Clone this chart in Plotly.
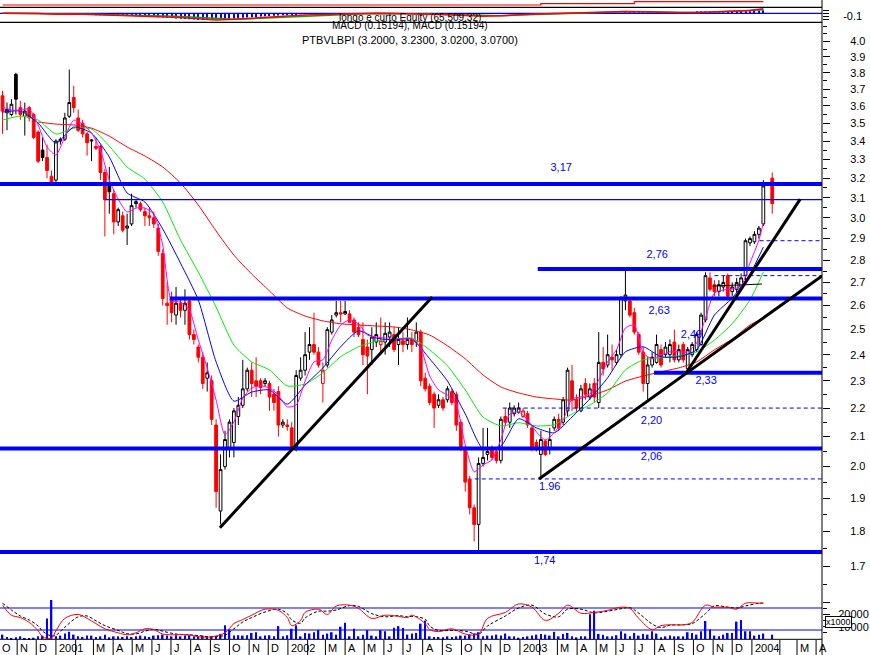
import pandas as pd
import plotly.graph_objects as go

# ---------------- data ----------------
week_start = "2000-10-09"
n_weeks = 174
missing_week = 172          # no bar for this week

opens = [3.66, 3.56, 3.55, 3.79, 3.59, 3.54, 3.59, 3.55, 3.45, 3.35,
         3.31, 3.21, 3.19, 3.40, 3.41, 3.54, 3.65, 3.53, 3.50, 3.44,
         3.40, 3.37, 3.37, 3.23, 3.16, 3.12, 2.98, 3.01, 2.95, 2.97,
         3.07, 3.07, 3.03, 3.01, 3.00, 2.95, 2.83, 2.61, 2.63, 2.56,
         2.61, 2.58, 2.62, 2.48, 2.43, 2.39, 2.31, 2.30, 2.14, 1.86,
         2.00, 2.06, 2.08, 2.17, 2.21, 2.27, 2.34, 2.30, 2.30, 2.29,
         2.29, 2.25, 2.26, 2.14, 2.14, 2.13, 2.06, 2.31, 2.34, 2.41,
         2.44, 2.41, 2.29, 2.36, 2.49, 2.56, 2.57, 2.565, 2.565, 2.54,
         2.51, 2.46, 2.43, 2.42, 2.45, 2.44, 2.45, 2.47, 2.48, 2.44,
         2.455, 2.44, 2.46, 2.45, 2.49, 2.31, 2.28, 2.25, 2.21, 2.23,
         2.23, 2.26, 2.25, 2.15, 2.06, 1.96, 1.87, 1.82, 2.01, 2.04,
         2.06, 2.05, 2.02, 2.17, 2.15, 2.18, 2.185, 2.17, 2.18, 2.13,
         2.08, 2.04, 2.085, 2.06, 2.13, 2.16, 2.15, 2.19, 2.30, 2.23,
         2.19, 2.29, 2.24, 2.29, 2.22, 2.37, 2.36, 2.39, 2.37, 2.40,
         2.62, 2.62, 2.57, 2.48, 2.41, 2.29, 2.36, 2.37, 2.42, 2.40,
         2.40, 2.45, 2.38, 2.44, 2.345, 2.40, 2.42, 2.44, 2.54, 2.72,
         2.69, 2.66, 2.68, 2.73, 2.66, 2.67, 2.68, 2.73, 2.88, 2.885,
         2.92, 2.97, 3.20]
highs = [3.69, 3.62, 3.64, 3.80, 3.63, 3.62, 3.60, 3.56, 3.46, 3.42,
         3.38, 3.24, 3.41, 3.42, 3.56, 3.82, 3.72, 3.58, 3.52, 3.45,
         3.41, 3.42, 3.38, 3.25, 3.26, 3.14, 3.05, 3.03, 3.02, 3.12,
         3.09, 3.08, 3.05, 3.05, 3.03, 2.97, 2.85, 2.70, 2.66, 2.68,
         2.63, 2.67, 2.63, 2.50, 2.44, 2.41, 2.37, 2.32, 2.16, 2.04,
         2.12, 2.16, 2.20, 2.24, 2.38, 2.35, 2.37, 2.39, 2.31, 2.31,
         2.30, 2.27, 2.28, 2.16, 2.16, 2.15, 2.34, 2.39, 2.49, 2.51,
         2.57, 2.43, 2.37, 2.51, 2.56, 2.62, 2.62, 2.62, 2.58, 2.55,
         2.53, 2.53, 2.46, 2.51, 2.53, 2.55, 2.53, 2.53, 2.51, 2.51,
         2.49, 2.55, 2.49, 2.53, 2.50, 2.33, 2.29, 2.26, 2.25, 2.24,
         2.28, 2.27, 2.26, 2.16, 2.07, 1.97, 1.88, 2.03, 2.13, 2.13,
         2.07, 2.06, 2.17, 2.20, 2.22, 2.21, 2.22, 2.20, 2.19, 2.14,
         2.09, 2.12, 2.09, 2.13, 2.17, 2.18, 2.24, 2.35, 2.36, 2.25,
         2.285, 2.31, 2.29, 2.31, 2.49, 2.43, 2.48, 2.44, 2.42, 2.64,
         2.76, 2.63, 2.59, 2.49, 2.43, 2.39, 2.41, 2.48, 2.44, 2.45,
         2.46, 2.50, 2.44, 2.45, 2.43, 2.45, 2.49, 2.57, 2.745, 2.745,
         2.71, 2.71, 2.73, 2.74, 2.70, 2.72, 2.74, 2.90, 2.91, 2.935,
         2.96, 3.19, 3.23]
lows = [3.44, 3.46, 3.54, 3.55, 3.52, 3.43, 3.51, 3.41, 3.28, 3.29,
        3.20, 3.16, 3.17, 3.38, 3.40, 3.53, 3.56, 3.45, 3.42, 3.32,
        3.29, 3.35, 3.19, 2.91, 3.02, 2.92, 2.96, 2.93, 2.87, 2.96,
        3.05, 3.03, 2.96, 2.96, 2.95, 2.82, 2.60, 2.52, 2.53, 2.52,
        2.55, 2.52, 2.46, 2.44, 2.37, 2.27, 2.26, 2.14, 1.87, 1.82,
        1.99, 2.03, 2.03, 2.14, 2.20, 2.26, 2.24, 2.24, 2.25, 2.28,
        2.19, 2.19, 2.10, 2.13, 2.12, 2.05, 2.05, 2.30, 2.32, 2.38,
        2.40, 2.35, 2.22, 2.35, 2.48, 2.55, 2.53, 2.56, 2.53, 2.47,
        2.47, 2.36, 2.25, 2.36, 2.43, 2.40, 2.40, 2.43, 2.41, 2.36,
        2.41, 2.42, 2.41, 2.43, 2.28, 2.26, 2.21, 2.13, 2.20, 2.19,
        2.22, 2.21, 2.12, 2.05, 1.92, 1.85, 1.77, 1.74, 2.00, 2.02,
        2.02, 2.01, 2.01, 2.14, 2.13, 2.17, 2.18, 2.165, 2.13, 2.05,
        2.05, 1.96, 2.035, 2.04, 2.12, 2.12, 2.14, 2.17, 2.19, 2.185,
        2.185, 2.23, 2.23, 2.22, 2.20, 2.32, 2.35, 2.34, 2.36, 2.39,
        2.58, 2.55, 2.48, 2.40, 2.26, 2.23, 2.35, 2.365, 2.35, 2.39,
        2.37, 2.37, 2.37, 2.37, 2.33, 2.39, 2.41, 2.435, 2.53, 2.66,
        2.64, 2.64, 2.66, 2.63, 2.64, 2.655, 2.665, 2.71, 2.865, 2.875,
        2.90, 2.96, 3.02]
closes = [3.57, 3.58, 3.61, 3.64, 3.55, 3.57, 3.53, 3.42, 3.29, 3.31,
          3.24, 3.17, 3.40, 3.41, 3.53, 3.62, 3.59, 3.46, 3.44, 3.39,
          3.405, 3.36, 3.23, 3.09, 3.13, 2.98, 3.04, 2.94, 2.96, 3.06,
          3.08, 3.04, 3.01, 3.00, 2.97, 2.84, 2.63, 2.60, 2.57, 2.61,
          2.58, 2.61, 2.48, 2.46, 2.39, 2.29, 2.33, 2.16, 1.92, 1.99,
          2.09, 2.15, 2.19, 2.21, 2.27, 2.34, 2.29, 2.28, 2.275, 2.30,
          2.24, 2.22, 2.14, 2.15, 2.135, 2.06, 2.32, 2.34, 2.40, 2.44,
          2.41, 2.36, 2.34, 2.50, 2.54, 2.57, 2.565, 2.575, 2.53, 2.49,
          2.48, 2.40, 2.395, 2.47, 2.48, 2.455, 2.485, 2.49, 2.42, 2.46,
          2.44, 2.46, 2.44, 2.49, 2.30, 2.27, 2.22, 2.20, 2.23, 2.20,
          2.27, 2.22, 2.14, 2.06, 1.95, 1.87, 1.82, 2.01, 2.03, 2.05,
          2.03, 2.02, 2.16, 2.15, 2.20, 2.20, 2.20, 2.19, 2.14, 2.06,
          2.055, 2.09, 2.04, 2.09, 2.16, 2.13, 2.23, 2.34, 2.23, 2.20,
          2.27, 2.25, 2.27, 2.24, 2.37, 2.345, 2.40, 2.38, 2.40, 2.63,
          2.645, 2.56, 2.49, 2.41, 2.29, 2.36, 2.39, 2.44, 2.36, 2.43,
          2.44, 2.38, 2.42, 2.38, 2.42, 2.44, 2.48, 2.56, 2.73, 2.67,
          2.66, 2.69, 2.70, 2.64, 2.68, 2.70, 2.72, 2.89, 2.90, 2.92,
          2.95, 3.16, 3.07]
volumes = [3600, 1700, 800, 1400, 2200, 800, 800, 1100, 2200, 2800,
           16800, 32200, 2200, 2800, 4500, 5900, 3600, 2200, 1700, 2800,
           2800, 1700, 2200, 3600, 1400, 2200, 2200, 1700, 2200, 1700,
           2200, 2800, 2200, 1700, 2800, 3100, 3600, 2800, 2200, 3100,
           2200, 2800, 3100, 2200, 2200, 2800, 2200, 2200, 2200, 4200,
           11200, 7800, 2800, 3100, 2800, 3100, 5000, 5600, 2200, 2800,
           3100, 2200, 10600, 2200, 3100, 8400, 11200, 2200, 5000, 4500,
           5600, 7300, 3600, 4500, 5600, 3600, 10100, 13400, 2200, 8400,
           2200, 3600, 7300, 2800, 2200, 7300, 6400, 2200, 9200, 10600,
           9000, 3600, 4500, 5000, 12600, 15100, 2200, 1700, 1700, 1400,
           2200, 1700, 2200, 2800, 2800, 3600, 4500, 5600, 2200, 2800,
           2800, 3600, 2800, 4500, 2200, 2200, 1100, 1700, 2200, 2800,
           3600, 4200, 3600, 2800, 5900, 2200, 4200, 5000, 2200, 1400,
           2200, 2200, 20400, 23200, 4200, 3600, 2200, 2200, 3100, 6400,
           4500, 2200, 5000, 2800, 4200, 3600, 6400, 4500, 1400, 2200,
           2800, 2200, 2200, 2200, 5600, 5000, 3600, 6400, 14800, 7800,
           2800, 2200, 3600, 5000, 5000, 14300, 15700, 6400, 6400, 2800,
           3600, 4500, 3600]

# moving averages (week index -> price)
ma_fast_idx = list(range(0, 171, 2)) + [171]
ma_fast = [3.594, 3.576, 3.576, 3.582, 3.490, 3.367, 3.323, 3.422, 3.518, 3.495,
           3.444, 3.350, 3.190, 3.093, 3.028, 3.048, 3.048, 3.018, 2.870, 2.620,
           2.615, 2.581, 2.458, 2.349, 2.229, 2.106, 2.151, 2.236, 2.273, 2.281,
           2.273, 2.247, 2.204, 2.211, 2.299, 2.372, 2.380, 2.458, 2.519, 2.540,
           2.524, 2.478, 2.470, 2.466, 2.466, 2.462, 2.462, 2.427, 2.318, 2.266,
           2.247, 2.211, 2.072, 1.983, 2.005, 2.022, 2.089, 2.179, 2.186, 2.158,
           2.116, 2.089, 2.113, 2.158, 2.233, 2.240, 2.251, 2.303, 2.372, 2.419,
           2.507, 2.519, 2.407, 2.384, 2.399, 2.411, 2.411, 2.411, 2.446, 2.548,
           2.654, 2.667, 2.671, 2.684, 2.787, 2.893, 2.975]
ma4_idx = list(range(0, 169, 4)) + [171]
ma_blue = [3.564, 3.570, 3.501, 3.388, 3.478, 3.444, 3.312, 3.124, 3.078, 2.946,
           2.786, 2.624, 2.372, 2.225, 2.258, 2.266, 2.214, 2.284, 2.349, 2.431,
           2.495, 2.466, 2.458, 2.462, 2.384, 2.299, 2.179, 2.058, 2.068, 2.162,
           2.130, 2.113, 2.168, 2.233, 2.311, 2.411, 2.431, 2.392, 2.392, 2.419,
           2.560, 2.632, 2.737, 2.860]
ma_green = [3.518, 3.541, 3.518, 3.439, 3.472, 3.467, 3.372, 3.259, 3.195, 3.078,
            2.893, 2.746, 2.594, 2.438, 2.372, 2.341, 2.281, 2.288, 2.330, 2.392,
            2.431, 2.454, 2.462, 2.466, 2.419, 2.357, 2.266, 2.168, 2.137, 2.148,
            2.137, 2.141, 2.179, 2.211, 2.255, 2.341, 2.380, 2.388, 2.396, 2.411,
            2.458, 2.524, 2.624, 2.746]
ma_red_idx = list(range(8, 169, 4)) + [171]
ma_red = [3.507, 3.495, 3.490, 3.472, 3.427, 3.367, 3.318, 3.259, 3.175, 3.063,
          2.936, 2.823, 2.737, 2.663, 2.590, 2.556, 2.536, 2.524, 2.519, 2.515,
          2.511, 2.499, 2.478, 2.435, 2.384, 2.322, 2.277, 2.255, 2.240, 2.233,
          2.229, 2.244, 2.266, 2.299, 2.318, 2.334, 2.349, 2.372, 2.419, 2.462,
          2.519, 2.548]

# oscillator in the volume pane
osc_idx = [0, 2, 4, 6, 8, 9, 11, 12, 14, 17, 19, 21, 23, 26, 28, 30, 32, 34, 36, 39,
           42, 44, 47, 50, 52, 54, 56, 59, 62, 64, 65, 67, 68, 71, 73, 75, 78, 80, 83, 86,
           89, 91, 92, 95, 96, 98, 101, 104, 107, 109, 113, 116, 119, 122, 125, 127, 130,
           133, 136, 139, 141, 143, 146, 148, 150, 153, 155, 158, 160, 163, 165, 167, 170, 171]
osc_k = [87, 62, 56, 44, 23, 8, 5, 23, 54, 64, 54, 41, 28, 18, 13, 18, 28, 26, 15, 13,
         13, 8, 8, 18, 41, 51, 62, 77, 74, 56, 36, 49, 69, 77, 64, 85, 87, 79, 54, 62,
         59, 56, 62, 41, 26, 21, 28, 15, 15, 54, 69, 90, 82, 49, 67, 87, 67, 69, 74, 82,
         79, 54, 26, 36, 38, 38, 44, 87, 82, 82, 77, 92, 92, 92]
osc_d = [92, 75, 60, 50, 35, 22, 10, 12, 32, 58, 60, 48, 36, 24, 16, 15, 22, 27, 22, 15,
         13, 11, 8, 12, 28, 45, 56, 70, 77, 66, 50, 42, 55, 72, 72, 75, 86, 84, 66, 58,
         61, 58, 59, 52, 35, 24, 24, 22, 15, 35, 60, 80, 87, 65, 58, 77, 77, 68, 72, 78,
         81, 67, 40, 31, 37, 38, 41, 66, 85, 82, 80, 85, 92, 92]
osc_levels = [80, 25]

# MACD strip
macd_vals = [0.0, 0.0, -0.01, -0.03, -0.02, -0.04, -0.06, -0.08, -0.09, -0.1,
             -0.14, -0.18, -0.22, -0.2, -0.16, -0.12, -0.09, -0.06, -0.04, -0.02,
             0.0, 0.0, -0.01, -0.01, -0.03, -0.05, -0.08, -0.1, -0.08, -0.04,
             -0.02, -0.01, 0.01, 0.02, 0.04, 0.06, 0.05, 0.03, 0.02, 0.03,
             0.06, 0.07, 0.09, 0.15]
macd_signal = [0.0, 0.0, 0.0, -0.01, -0.02, -0.03, -0.04, -0.06, -0.08, -0.09,
               -0.11, -0.14, -0.18, -0.2, -0.18, -0.15, -0.12, -0.09, -0.06, -0.04,
               -0.02, -0.01, -0.01, -0.01, -0.02, -0.04, -0.06, -0.08, -0.08, -0.06,
               -0.04, -0.02, 0.0, 0.01, 0.03, 0.05, 0.05, 0.04, 0.03, 0.03,
               0.04, 0.06, 0.08, 0.12]
hist_a_start = 20
hist_a = [-0.03, -0.04, -0.05, -0.06, -0.06, -0.07, -0.08, -0.08, -0.09, -0.09,
          -0.1, -0.1, -0.11, -0.11, -0.12, -0.13, -0.14, -0.15, -0.16, -0.17,
          -0.18, -0.19, -0.2, -0.21, -0.22, -0.22, -0.22, -0.21, -0.2, -0.2,
          -0.19, -0.18, -0.17, -0.16, -0.15, -0.14, -0.13, -0.12, -0.11, -0.1,
          -0.09, -0.08, -0.07, -0.06, -0.05, -0.04, -0.04, -0.03, -0.02, -0.02, -0.01]
hist_b_start = 140
hist_b = [0.02, 0.03, 0.03, 0.02, 0.01, 0.01, 0.02, 0.02, 0.03, 0.03, 0.02, 0.02,
          0.01, 0.01, 0.02, 0.03, 0.04, 0.05, 0.05, 0.04, 0.04, 0.03, 0.03, 0.04,
          0.04, 0.05, 0.06, 0.06, 0.07, 0.08, 0.09, 0.1]
equity_idx = [0, 121, 142, 171]
equity_vals = [40000, 50000, 65509, 65509]

# support / resistance levels and trend lines
x_start, x_end = "2000-10-05", "2004-04-20 07:00"
thick_levels = [3.17, 2.76, 2.63, 2.33, 2.06, 1.74]
thick_starts = [x_start, "2003-01-29", "2001-06-29", "2003-07-31", x_start, x_start]
thin_level, thin_start = 3.09, "2001-03-19"
dashed_levels = [2.89, 2.73, 2.20, 1.96]
dashed_starts = ["2004-01-13", "2003-11-03", "2002-12-05", "2002-10-22"]
trend_dates = [["2001-09-16", "2002-08-16"], ["2003-01-31", x_end], ["2003-09-21", "2004-03-17"]]
trend_prices = [[1.81, 2.637], [1.96, 2.729], [2.334, 3.093]]
small_trend_dates = ["2003-10-31", "2004-01-17"]
small_trend_prices = [2.684, 2.693]
label_text = ["3,17", "2,76", "2,63", "2,49", "2,33", "2,20", "2,06", "1.96", "1,74"]
label_dates = ["2003-03-07", "2003-08-05", "2003-08-08", "2003-09-28", "2003-10-21",
               "2003-07-27", "2003-07-27", "2003-02-17", "2003-02-09"]
label_prices = [3.25, 2.823, 2.577, 2.478, 2.299, 2.154, 2.029, 1.935, 1.714]

price_ticks = [1.7, 1.8, 1.9, 2.0, 2.1, 2.2, 2.3, 2.4, 2.5, 2.6, 2.7, 2.8, 2.9,
               3.0, 3.1, 3.2, 3.3, 3.4, 3.5, 3.6, 3.7, 3.8, 3.9, 4.0]
price_minor = [1.65, 1.75, 1.85, 1.95, 2.05, 2.15, 2.25, 2.35, 2.45, 2.55, 2.65, 2.75,
               2.85, 2.95, 3.05, 3.15, 3.25, 3.35, 3.45, 3.55, 3.65, 3.75, 3.85, 3.95, 4.05, 4.1]

# ---------------- figure ----------------
FONT = "Liberation Sans, Arial, sans-serif"
BLUE = "#0000FF"
full_weeks = pd.date_range(week_start, periods=n_weeks, freq="7D")
bar_dates = full_weeks.delete(missing_week)


def wk(idx):
    return [full_weeks[i] for i in idx]


df = pd.DataFrame({"date": bar_dates, "open": opens, "high": highs,
                   "low": lows, "close": closes, "volume": volumes})
prev_close = df["close"].shift(1).fillna(df["open"])
black_mask = df["close"] >= prev_close

fig = go.Figure()

for mask, col, downfill in [(black_mask, "black", "black"), (~black_mask, "red", "red")]:
    d = df[mask]
    fig.add_trace(go.Candlestick(
        x=d["date"], open=d["open"], high=d["high"], low=d["low"], close=d["close"],
        increasing=dict(line=dict(color=col, width=1), fillcolor="white"),
        decreasing=dict(line=dict(color=col, width=1), fillcolor=downfill),
        whiskerwidth=0, xaxis="x", yaxis="y", showlegend=False, hoverinfo="skip"))

for idx, vals, col in [(ma_red_idx, ma_red, "#FF0000"), (ma4_idx, ma_green, "#00EE00"),
                       (ma4_idx, ma_blue, BLUE), (ma_fast_idx, ma_fast, "#FF00FF")]:
    fig.add_trace(go.Scatter(x=wk(idx), y=vals, mode="lines",
                             line=dict(color=col, width=1, shape="spline", smoothing=0.6),
                             xaxis="x", yaxis="y", showlegend=False, hoverinfo="skip"))

for lv, st in zip(thick_levels, thick_starts):
    fig.add_trace(go.Scatter(x=[st, x_end], y=[lv, lv], mode="lines",
                             line=dict(color=BLUE, width=4), xaxis="x", yaxis="y",
                             showlegend=False, hoverinfo="skip"))
fig.add_trace(go.Scatter(x=[thin_start, x_end], y=[thin_level, thin_level], mode="lines",
                         line=dict(color=BLUE, width=1.2), xaxis="x", yaxis="y",
                         showlegend=False, hoverinfo="skip"))
for lv, st in zip(dashed_levels, dashed_starts):
    fig.add_trace(go.Scatter(x=[st, x_end], y=[lv, lv], mode="lines",
                             line=dict(color=BLUE, width=1, dash="4px,3px"), xaxis="x",
                             yaxis="y", showlegend=False, hoverinfo="skip"))
for td, tp in zip(trend_dates, trend_prices):
    fig.add_trace(go.Scatter(x=td, y=tp, mode="lines", line=dict(color="black", width=3),
                             xaxis="x", yaxis="y", showlegend=False, hoverinfo="skip"))
fig.add_trace(go.Scatter(x=small_trend_dates, y=small_trend_prices, mode="lines",
                         line=dict(color="black", width=1), xaxis="x", yaxis="y",
                         showlegend=False, hoverinfo="skip"))
fig.add_trace(go.Scatter(x=label_dates, y=label_prices, mode="text", text=label_text,
                         textfont=dict(family=FONT, size=11, color=BLUE),
                         xaxis="x", yaxis="y", showlegend=False, hoverinfo="skip"))

# volume pane
fig.add_trace(go.Bar(x=df["date"], y=df["volume"], width=2.6 * 86400000,
                     marker=dict(color=BLUE, line=dict(width=0)), xaxis="x", yaxis="y2",
                     showlegend=False, hoverinfo="skip"))
for lv in osc_levels:
    fig.add_trace(go.Scatter(x=[x_start, x_end], y=[lv, lv], mode="lines",
                             line=dict(color=BLUE, width=1.2), xaxis="x", yaxis="y3",
                             showlegend=False, hoverinfo="skip"))
fig.add_trace(go.Scatter(x=wk(osc_idx), y=osc_d, mode="lines",
                         line=dict(color="black", width=1, dash="3px,2px", shape="spline"),
                         xaxis="x", yaxis="y3", showlegend=False, hoverinfo="skip"))
fig.add_trace(go.Scatter(x=wk(osc_idx), y=osc_k, mode="lines",
                         line=dict(color="#FF0000", width=1, shape="spline"),
                         xaxis="x", yaxis="y3", showlegend=False, hoverinfo="skip"))

# MACD strip
fig.add_trace(go.Scatter(x=[x_start, x_end], y=[0, 0], mode="lines",
                         line=dict(color=BLUE, width=1.2), xaxis="x", yaxis="y4",
                         showlegend=False, hoverinfo="skip"))
fig.add_trace(go.Bar(x=wk(range(hist_a_start, hist_a_start + len(hist_a))), y=hist_a,
                     width=1.6 * 86400000, marker=dict(color=BLUE, line=dict(width=0)),
                     xaxis="x", yaxis="y4", showlegend=False, hoverinfo="skip"))
fig.add_trace(go.Bar(x=wk(range(hist_b_start, hist_b_start + len(hist_b))), y=hist_b,
                     width=1.6 * 86400000, marker=dict(color=BLUE, line=dict(width=0)),
                     xaxis="x", yaxis="y4", showlegend=False, hoverinfo="skip"))
fig.add_trace(go.Scatter(x=wk(ma4_idx), y=macd_signal, mode="lines",
                         line=dict(color="#00AA00", width=1.5), xaxis="x", yaxis="y4",
                         showlegend=False, hoverinfo="skip"))
fig.add_trace(go.Scatter(x=wk(ma4_idx), y=macd_vals, mode="lines",
                         line=dict(color="#FF0000", width=1.5), xaxis="x", yaxis="y4",
                         showlegend=False, hoverinfo="skip"))
fig.add_trace(go.Scatter(x=wk(equity_idx), y=equity_vals, mode="lines",
                         line=dict(color="#FF0000", width=1.2, shape="hv"),
                         xaxis="x", yaxis="y5", showlegend=False, hoverinfo="skip"))

H = 640.0
def py(px):           # pixel row (from top of plot area) -> paper fraction
    return 1 - px / H

main_dom = [py(600), py(22.3)]
vol_dom = [0, py(600)]
macd_dom = [py(22.3), py(7.3)]
eq_dom = [py(7.0), 1]

tickfont = dict(family=FONT, size=11, color="black")
fig.update_layout(
    width=870, height=655, margin=dict(l=0, r=48, t=0, b=15, autoexpand=False),
    paper_bgcolor="white", plot_bgcolor="white", hovermode=False,
    barmode="overlay", boxgap=0.12, showlegend=False,
    xaxis=dict(domain=[0, 1], range=[x_start, x_end], type="date", showgrid=False,
               zeroline=False, showticklabels=False, ticks="", showline=False,
               rangeslider=dict(visible=False), anchor="y2", fixedrange=True,
               automargin=False),
    yaxis=dict(domain=main_dom, type="log", range=[0.20655, 0.61551], side="right",
               anchor="x", showgrid=False, zeroline=False, showline=False, automargin=False,
               tickmode="array", tickvals=price_ticks,
               ticktext=[f"{v:.1f}" for v in price_ticks],
               ticks="outside", ticklen=7, tickcolor="black", tickwidth=1,
               ticklabelstandoff=18, tickfont=tickfont,
               minor=dict(tickmode="array", tickvals=price_minor, ticks="outside",
                          ticklen=4, tickcolor="black", tickwidth=1, showgrid=False)),
    yaxis2=dict(domain=vol_dom, range=[-800, 32000], side="right", anchor="x",
                showgrid=False, zeroline=False, showline=False, tickmode="array",
                tickvals=[10000, 20000, 30000], ticktext=["10000", "20000", ""],
                ticks="outside", ticklen=7, tickcolor="black", tickfont=tickfont,
                ticklabelstandoff=6, automargin=False,
                minor=dict(tickmode="array", tickvals=[5000, 15000, 25000], ticks="outside",
                           ticklen=4, tickcolor="black")),
    yaxis3=dict(overlaying="y2", range=[0, 100], visible=False, side="right", anchor="x"),
    yaxis4=dict(domain=macd_dom, range=[-0.3, 0.2], side="right", anchor="x",
                showgrid=False, zeroline=False, showline=False, tickmode="array",
                tickvals=[-0.2, -0.1, 0, 0.1], ticktext=["", "-0.1", "", ""],
                ticks="outside", ticklen=6, tickcolor="black", tickfont=tickfont,
                ticklabelstandoff=12, automargin=False),
    yaxis5=dict(domain=eq_dom, range=[24540, 78650], visible=False, anchor="x"),
)

# frame lines
shapes = [
    dict(type="line", xref="paper", yref="paper", x0=1, x1=1, y0=-15 / H, y1=1,
         line=dict(color="black", width=1)),
    dict(type="line", xref="paper", yref="paper", x0=0, x1=1, y0=py(22.3), y1=py(22.3),
         line=dict(color="black", width=1.2)),
    dict(type="line", xref="paper", yref="paper", x0=0, x1=1, y0=py(7.3), y1=py(7.3),
         line=dict(color="black", width=1.2)),
    dict(type="line", xref="paper", yref="paper", x0=0, x1=1, y0=py(639.3), y1=py(639.3),
         line=dict(color="black", width=1)),
]

# month separators and labels along the bottom
letters = "JFMAMJJASOND"
month_starts = list(pd.date_range("2000-10-01", "2004-01-01", freq="MS"))
month_labels = []
for d in month_starts:
    if d.month == 1:
        month_labels.append(str(d.year))
    elif d.month == 2:
        month_labels.append("")
    else:
        month_labels.append(letters[d.month - 1])
month_starts += [pd.Timestamp("2004-02-14"), pd.Timestamp("2004-03-12"), pd.Timestamp("2004-04-11")]
month_labels += ["", "M", "A"]

annotations = []
range_start = pd.Timestamp(x_start)
for d, lab in zip(month_starts, month_labels):
    shapes.append(dict(type="line", xref="x", yref="paper", x0=d, x1=d, y0=-15 / H, y1=0,
                       line=dict(color="black", width=1)))
    if not lab:
        continue
    if d < range_start:   # first month starts just left of the window: pin to the edge
        annotations.append(dict(x=0, y=py(647.5), xref="paper", yref="paper", text=lab,
                                showarrow=False, xanchor="left", yanchor="middle",
                                font=dict(family=FONT, size=11, color="black")))
    else:
        annotations.append(dict(x=d, y=py(647.5), xref="x", yref="paper", text=lab,
                                showarrow=False, xanchor="left", yanchor="middle", xshift=1,
                                font=dict(family=FONT, size=11, color="black")))

annotations += [
    dict(x=410 / 822, y=py(32), xref="paper", yref="paper",
         text="PTBVLBPI (3.2000, 3.2300, 3.0200, 3.0700)", showarrow=False,
         font=dict(family=FONT, size=11, color="black")),
    dict(x=410 / 822, y=py(10.5), xref="paper", yref="paper",
         text="longo e curto Equity (65,509.32)", showarrow=False,
         font=dict(family=FONT, size=10, color="black")),
    dict(x=410 / 822, y=py(17.5), xref="paper", yref="paper",
         text="MACD (0.15194), MACD (0.15194)", showarrow=False,
         font=dict(family=FONT, size=10, color="black")),
    dict(x=825 / 822, y=py(628), xref="paper", yref="paper", text="x1000",
         showarrow=False, xanchor="left", bgcolor="white", bordercolor="black",
         borderwidth=1, borderpad=0, font=dict(family=FONT, size=9, color="black")),
]
fig.update_layout(shapes=shapes, annotations=annotations)

# the page's default 8px body margin would shift the whole picture; remove it
fig.write_html("out.html", config={"displayModeBar": False},
               post_script="document.body.style.margin='0px';")
